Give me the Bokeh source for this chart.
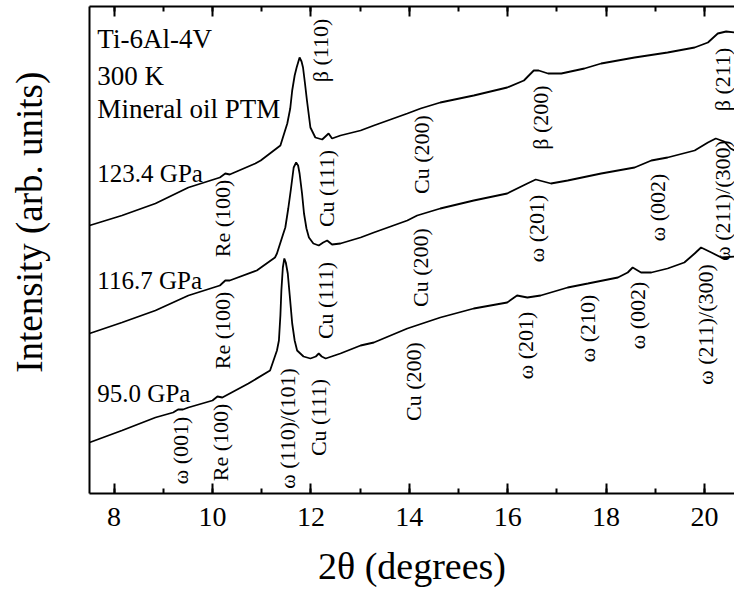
import numpy as np
from bokeh.plotting import figure
from bokeh.models import Range1d, LinearAxis, SingleIntervalTicker, FixedTicker
from bokeh.core.properties import value
from bokeh.embed import file_html
from bokeh.resources import INLINE

# ---------------- data ----------------
# 95.0 GPa pattern
tt_950 = [7.50, 8.16, 8.84, 9.20, 9.30, 9.40, 9.51, 10.00, 10.10, 10.20, 10.73, 11.17,
          11.31, 11.35, 11.38, 11.40, 11.43, 11.46, 11.49, 11.53, 11.57, 11.62, 11.67, 11.72,
          11.85, 11.99, 12.10, 12.16, 12.22, 12.30, 12.60, 13.01, 13.28, 13.96, 14.63, 15.31,
          15.99, 16.19, 16.40, 16.67, 17.22, 17.63, 18.24, 18.44, 18.54, 18.71, 18.92, 19.25,
          19.59, 19.80, 19.93, 20.14, 20.34, 20.61]
int_950 = [51, 63, 76, 81, 84, 84, 86, 93, 97, 96, 110, 123,
           143, 153, 178, 203, 226, 235, 231, 220, 198, 170, 153, 143,
           137, 135, 137, 140, 137, 135, 140, 148, 151, 165, 176, 185,
           191, 198, 196, 198, 206, 210, 216, 221, 226, 221, 221, 225,
           231, 240, 246, 241, 236, 237]

# 116.7 GPa pattern
tt_1167 = [7.50, 8.16, 8.84, 9.51, 10.15, 10.26, 10.35, 10.90, 11.27, 11.31, 11.44, 11.48,
           11.54, 11.59, 11.65, 11.70, 11.74, 11.77, 11.82, 11.86, 11.91, 11.96, 12.05, 12.16,
           12.25, 12.33, 12.43, 12.60, 13.01, 13.28, 13.96, 14.16, 14.63, 15.31, 15.99, 16.40,
           16.57, 16.88, 17.22, 17.90, 18.58, 18.92, 19.25, 19.80, 20.07, 20.23, 20.40, 20.53,
           20.61]
int_1167 = [160, 171, 183, 198, 208, 213, 213, 223, 236, 240, 260, 266,
            285, 303, 326, 331, 328, 320, 300, 280, 265, 256, 250, 248,
            251, 253, 249, 250, 256, 261, 273, 278, 285, 293, 300, 310,
            314, 310, 313, 320, 326, 333, 336, 343, 351, 355, 352, 345,
            343]

# 123.4 GPa pattern
tt_1234 = [7.50, 8.16, 8.84, 9.51, 10.15, 10.26, 10.35, 10.87, 10.98, 11.38, 11.52, 11.58,
           11.62, 11.67, 11.71, 11.77, 11.81, 11.84, 11.88, 11.92, 11.99, 12.09, 12.23, 12.36,
           12.43, 12.60, 13.01, 13.28, 13.96, 14.23, 14.63, 15.31, 15.99, 16.33, 16.53, 16.63,
           16.82, 17.09, 17.56, 17.90, 18.58, 19.25, 19.80, 20.07, 20.27, 20.44, 20.61]
int_1234 = [268, 278, 290, 306, 316, 320, 319, 330, 333, 348, 370, 385,
            403, 418, 426, 436, 432, 426, 410, 393, 366, 356, 354, 360,
            355, 358, 363, 368, 380, 385, 391, 398, 406, 413, 423, 423,
            420, 420, 425, 430, 436, 441, 446, 451, 460, 462, 461]

# reflection labels
refl_text = ["β (110)", "Cu (111)", "Cu (200)", "β (200)", "β (211)", "Re (100)",
             "Re (100)", "Cu (111)", "Cu (200)", "ω (201)", "ω (002)", "ω (211)/(300)",
             "ω (001)", "Re (100)", "ω (110)/(101)", "Cu (111)", "Cu (200)", "ω (201)",
             "ω (210)", "ω (002)", "ω (211)/(300)"]
refl_2theta = [12.20, 12.32, 14.25, 16.67, 20.36, 10.20,
               10.20, 12.30, 14.23, 16.59, 19.04, 20.37,
               9.35, 10.16, 11.52, 12.15, 14.09, 16.36,
               17.62, 18.64, 20.03]
# label anchor heights (layout)
refl_y = [443, 305, 339, 376, 414, 275,
          163, 193, 226, 265, 286, 293,
          43, 51, 65, 76, 112, 148,
          165, 178, 169]

pressure_text = ["123.4 GPa", "116.7 GPa", "95.0 GPa"]
header_text = ["Ti-6Al-4V", "300 K", "Mineral oil PTM"]

x_ticks_interval = 2

# ---------------- figure ----------------
SERIF = "Liberation Serif"

p = figure(frame_width=645, frame_height=487,
           x_range=Range1d(7.5, 20.61), y_range=Range1d(0, 487),
           output_backend="svg", toolbar_location=None,
           min_border_left=89, min_border_right=0, min_border_top=6, min_border_bottom=97,
           x_axis_label="2θ (degrees)",
           y_axis_label="\u00a0" * 6 + "Intensity (arb. units)")
p.outline_line_color = None
p.xgrid.visible = False
p.ygrid.visible = False
p.background_fill_color = "white"
p.border_fill_color = "white"

ticker = SingleIntervalTicker(interval=x_ticks_interval, num_minor_ticks=2)

xa = p.xaxis[0]
xa.ticker = ticker
xa.axis_line_width = 2
xa.major_tick_in = 10
xa.major_tick_out = 0
xa.minor_tick_in = 5
xa.minor_tick_out = 0
xa.major_tick_line_width = 2
xa.minor_tick_line_width = 2
xa.major_label_text_font = SERIF
xa.major_label_text_font_size = "28px"
xa.major_label_text_color = "black"
xa.major_label_standoff = 14
xa.axis_label_text_font = SERIF
xa.axis_label_text_font_size = "38px"
xa.axis_label_text_font_style = "normal"
xa.axis_label_text_color = "black"
xa.axis_label_standoff = 16

ya = p.yaxis[0]
ya.ticker = FixedTicker(ticks=[])
ya.axis_line_width = 2
ya.major_tick_in = 0
ya.major_tick_out = 0
ya.minor_tick_in = 0
ya.minor_tick_out = 0
ya.major_label_text_font_size = "1px"
ya.major_label_text_color = None
ya.major_label_standoff = 0
ya.axis_label_text_font = SERIF
ya.axis_label_text_font_size = "37px"
ya.axis_label_text_font_style = "normal"
ya.axis_label_text_color = "black"
ya.axis_label_standoff = 40

top = LinearAxis(ticker=ticker, axis_line_width=2, major_tick_in=10, major_tick_out=0,
                 minor_tick_in=5, minor_tick_out=0, major_tick_line_width=2,
                 minor_tick_line_width=2, major_label_text_font_size="1px",
                 major_label_text_color=None, major_label_standoff=0)
p.add_layout(top, "above")

for tt, inten in [(tt_950, int_950), (tt_1167, int_1167), (tt_1234, int_1234)]:
    p.line(tt, inten, line_color="black", line_width=1.8)

p.text(x=refl_2theta, y=refl_y, text=refl_text, angle=np.pi / 2,
       text_align="center", text_baseline="middle",
       text_font=value(SERIF), text_font_size="22px", text_color="black")

p.text(x=[7.66, 7.66, 7.66], y=[455, 418, 385], text=header_text,
       text_align="left", text_baseline="alphabetic",
       text_font=value(SERIF), text_font_size="27px", text_color="black")
p.text(x=[7.66, 7.66, 7.66], y=[320, 213, 100], text=pressure_text,
       text_align="left", text_baseline="alphabetic",
       text_font=value(SERIF), text_font_size="25px", text_color="black")

open("out.html", "w").write(file_html(p, INLINE))
